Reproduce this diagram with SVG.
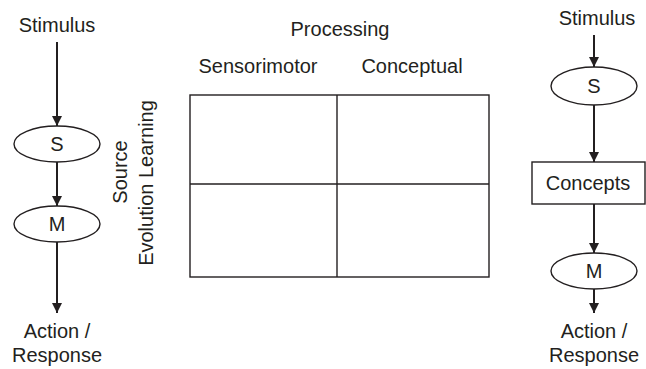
<svg xmlns="http://www.w3.org/2000/svg" width="646" height="369" viewBox="0 0 646 369">
<defs>
<marker id="ah" viewBox="0 0 10 10" refX="10" refY="5" markerWidth="5.5" markerHeight="5" markerUnits="strokeWidth" orient="auto">
<path d="M0,0 L10,5 L0,10 z" fill="#231f20"/>
</marker>
<style>
text{font-family:"Liberation Sans",Arial,sans-serif;font-size:20px;fill:#231f20;text-anchor:middle}
.node{fill:#fff;stroke:#231f20;stroke-width:1.4}
.edge{stroke:#231f20;stroke-width:2;fill:none;marker-end:url(#ah)}
.grid{fill:none;stroke:#231f20;stroke-width:1.4}
</style>
</defs>
<rect width="646" height="369" fill="#fff"/>

<g id="connectors">
<line class="edge" x1="57" y1="42" x2="57" y2="126"/>
<line class="edge" x1="57" y1="162" x2="57" y2="206"/>
<line class="edge" x1="57" y1="242" x2="57" y2="313"/>
<line class="edge" x1="594" y1="35" x2="594" y2="67"/>
<line class="edge" x1="594" y1="105" x2="594" y2="162"/>
<line class="edge" x1="594" y1="204" x2="594" y2="253"/>
<line class="edge" x1="594" y1="289" x2="594" y2="313"/>
</g>

<g id="left-stimulus"><text x="57" y="32">Stimulus</text></g>
<g id="left-S"><ellipse class="node" cx="57" cy="144" rx="43" ry="18"/><text x="57" y="151">S</text></g>
<g id="left-M"><ellipse class="node" cx="57" cy="224" rx="43" ry="18"/><text x="57" y="231">M</text></g>
<g id="left-response"><text x="57" y="338">Action /</text><text x="57" y="362">Response</text></g>

<g id="right-stimulus"><text x="597" y="25">Stimulus</text></g>
<g id="right-S"><ellipse class="node" cx="594" cy="86" rx="43" ry="19"/><text x="594" y="93">S</text></g>
<g id="right-concepts"><rect class="node" x="532" y="162" width="113" height="42"/><text x="588" y="190">Concepts</text></g>
<g id="right-M"><ellipse class="node" cx="594" cy="271" rx="43" ry="18"/><text x="594" y="278">M</text></g>
<g id="right-response"><text x="594" y="338">Action /</text><text x="594" y="362">Response</text></g>

<g id="matrix">
<rect class="grid" x="190" y="95" width="299" height="182"/>
<line class="grid" x1="337" y1="95" x2="337" y2="277"/>
<line class="grid" x1="190" y1="184" x2="489" y2="184"/>
<text x="340" y="36">Processing</text>
<text x="258" y="73">Sensorimotor</text>
<text x="412" y="73">Conceptual</text>
<text transform="translate(127,172) rotate(-90)">Source</text>
<text transform="translate(153,183) rotate(-90)">Evolution Learning</text>
</g>
</svg>
